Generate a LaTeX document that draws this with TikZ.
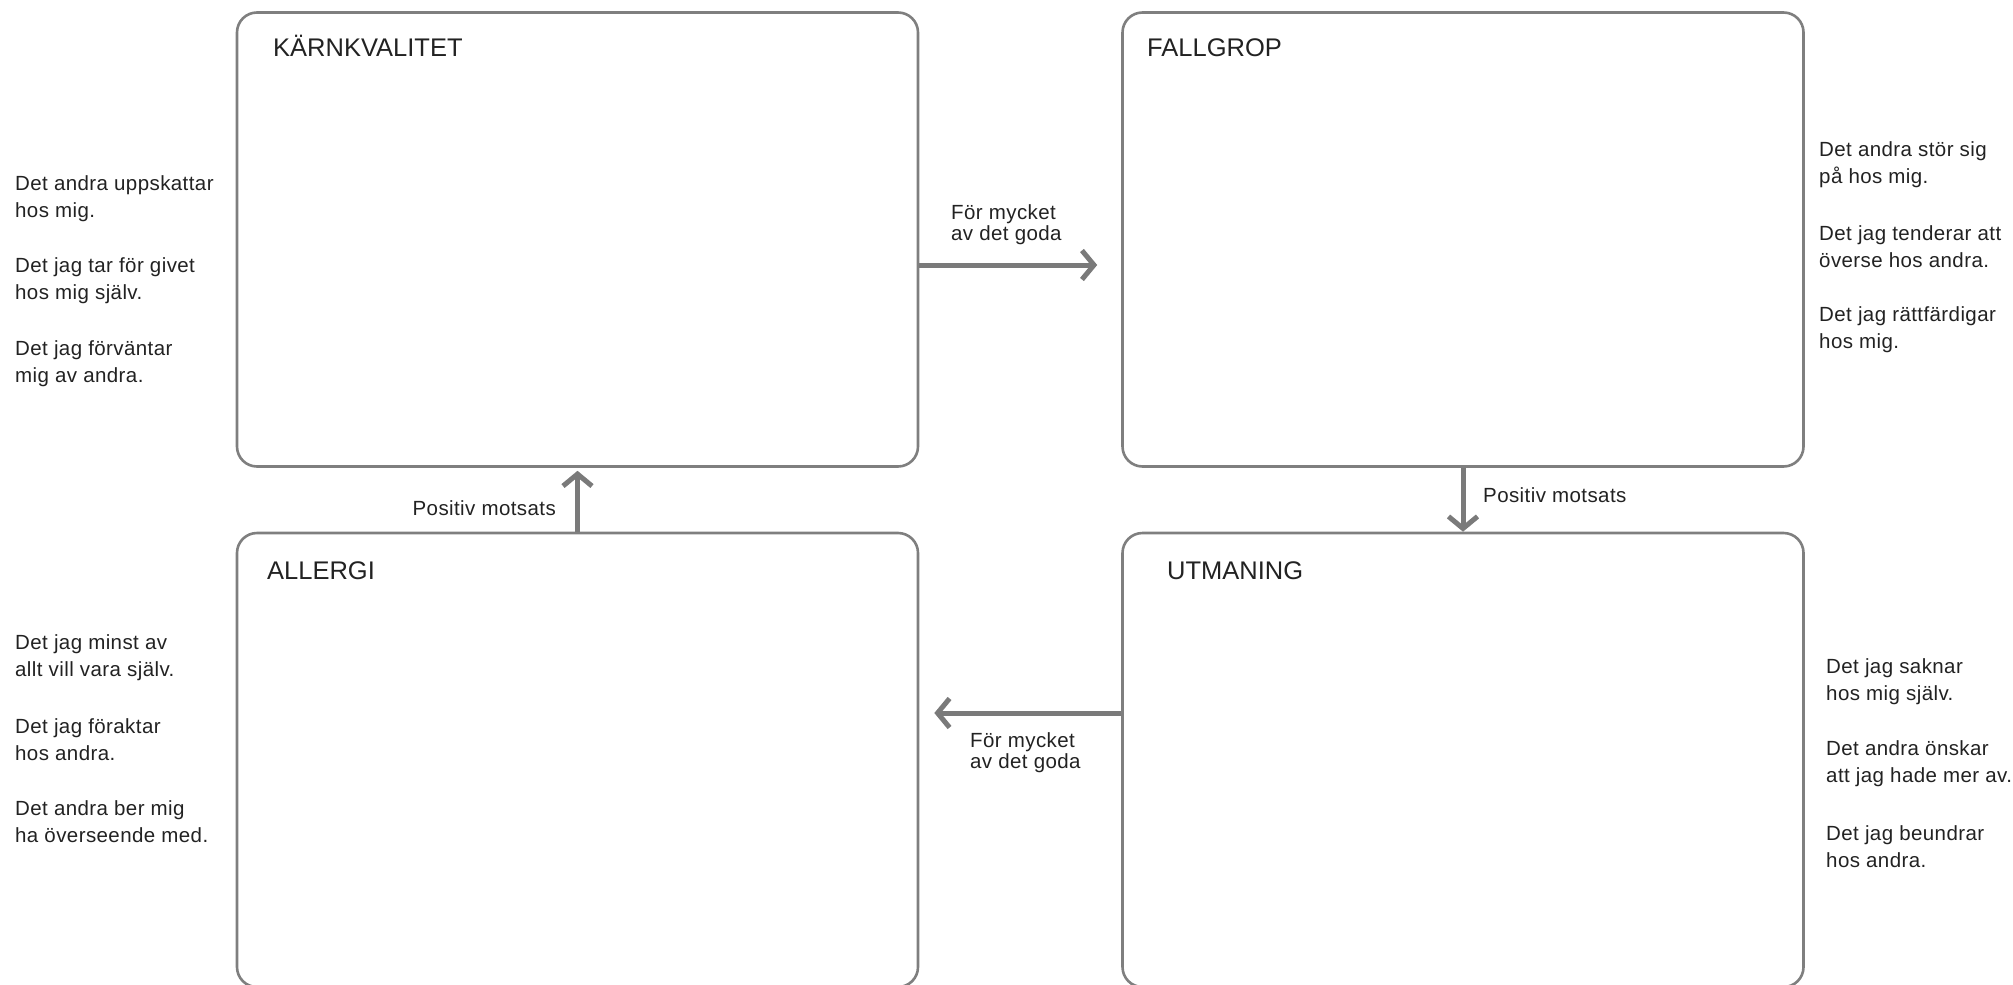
\documentclass[tikz,border=0pt]{standalone}
\usepackage{fontspec}
\setmainfont{Liberation Sans}
\newfontfamily\sidefont[LetterSpace=2]{Liberation Sans}
\usetikzlibrary{arrows.meta}
\definecolor{boxgray}{HTML}{7F7F7F}
\definecolor{arrowgray}{HTML}{7A7A7A}
\definecolor{txt}{HTML}{222222}
\tikzset{
  quad/.style={draw=boxgray, line width=2.6pt, rounded corners=20pt, minimum width=681pt, minimum height=454pt, inner sep=0pt},
  title/.style={anchor=base west, inner sep=0pt, text=txt, font=\fontsize{25.5}{30}\selectfont},
  side/.style={anchor=west, inner sep=0pt, align=left, text=txt, font=\sidefont\fontsize{20.5}{27}\selectfont},
  lbl/.style={inner sep=0pt, align=left, text=txt, font=\sidefont\fontsize{20.5}{21}\selectfont},
  conn/.style={draw=arrowgray, line width=5pt, -{Straight Barb[length=12pt, width=29pt]}}
}
\begin{document}
\begin{tikzpicture}[x=1pt, y=-1pt]
\useasboundingbox (0,0) rectangle (2013,985);
% boxes
\node[quad] (k) at (577.5,239.5) {};
\node[quad] (f) at (1463,239.5) {};
\node[quad] (a) at (577.5,760) {};
\node[quad] (u) at (1463,760) {};
% titles
\node[title] (tk) at (273,56) {KÄRNKVALITET};
\node[title] (tf) at (1147,56) {FALLGROP};
\node[title] (ta) at (267,579) {ALLERGI};
\node[title] (tu) at (1167,579) {UTMANING};
% connectors
\draw[conn, shorten >=24pt] ([yshift=-25.5pt]k.east) -- ([yshift=-25.5pt]f.west);
\draw[conn] (f.south) -- (u.north);
\draw[conn, shorten >=15pt] ([yshift=47pt]u.west) -- ([yshift=47pt]a.east);
\draw[conn, shorten >=3pt] (a.north) -- (k.south);
% connector labels
\node[lbl, anchor=west] (l1) at (951,225) {För mycket\\av det goda};
\node[lbl, anchor=base west] (l2) at (1483,502) {Positiv motsats};
\node[lbl, anchor=west] (l3) at (970,752.5) {För mycket\\av det goda};
\node[lbl, anchor=base east] (l4) at (556,515) {Positiv motsats};
% side texts left top
\node[side] (s1) at (15,199) {Det andra uppskattar\\hos mig.};
\node[side] (s2) at (15,281) {Det jag tar för givet\\hos mig själv.};
\node[side] (s3) at (15,364) {Det jag förväntar\\mig av andra.};
% right top
\node[side] (s4) at (1819,165) {Det andra stör sig\\på hos mig.};
\node[side] (s5) at (1819,246.5) {Det jag tenderar att\\överse hos andra.};
\node[side] (s6) at (1819,330) {Det jag rättfärdigar\\hos mig.};
% left bottom
\node[side] (s7) at (15,658) {Det jag minst av\\allt vill vara själv.};
\node[side] (s8) at (15,740) {Det jag föraktar\\hos andra.};
\node[side] (s9) at (15,821.5) {Det andra ber mig\\ha överseende med.};
% right bottom
\node[side] (s10) at (1826,681.5) {Det jag saknar\\hos mig själv.};
\node[side] (s11) at (1826,763.5) {Det andra önskar\\att jag hade mer av.};
\node[side] (s12) at (1826,846.5) {Det jag beundrar\\hos andra.};
\end{tikzpicture}
\end{document}
